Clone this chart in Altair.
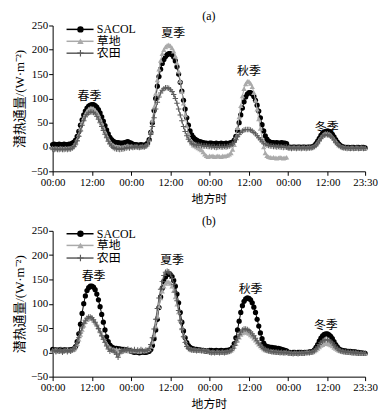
import altair as alt
import pandas as pd

series_names = ["SACOL", "草地", "农田"]
series_colors = ["#000000", "#aaaaaa", "#5c5c5c"]
series_shapes = ["circle", "triangle-up",
                 "M-1,-0.18H1V0.18H-1Z M-0.18,-1H0.18V1H-0.18Z"]
series_sizes = [28, 30, 26]

tick_vals = [0, 24, 48, 72, 96, 120, 144, 168, 191]
tick_labels = ["00:00", "12:00", "00:00", "12:00", "00:00", "12:00", "00:00", "12:00", "23:30"]
y_ticks = [-50, 0, 50, 100, 150, 200, 250]

# ---------- panel (a) ----------
a_sacol_spring = [5,6,5,5,6,5,5,6,5,5,6,6, 8,10,14,22,32,45, 56,66,74,80,84,86,87,87, 85,82,77,70,62,53,44,35, 27,20,15,12,10,9, 9,8,8,8,9,10,11,9]
a_sacol_summer = [8,6,5,5,4,4,5,4,4,5, 8,15,30,50,75,100, 125,145,160,172,180,186,190,192,192,190, 185,177,165,150,133,115,96,78, 60,45,33,25,20,16, 14,12,11,10,9,8,8,7]
a_sacol_autumn = [8,8,7,7,8,7,7,8,7,7,8,7,8,9, 10,14,22,34,50,66, 80,93,103,109,112,112,109,104, 96,86,74,60,46,33,23,16, 12,10,9,9,8,9,8,8,9,8,8,7]
a_sacol_winter = [0,0,-1,0,0,-1,0,0,-1,0,0,-1,0,0,0,1, 3,7,12,18,24,28, 31,32,33,32,30,26, 21,15,10,6,3,1, 0,-1,-1,-1,-2,-1,-1,-2,-1,-1,-2,-1,-1,-2]

a_grass_spring = [-2,-3,-2,-3,-3,-2,-3,-3,-2,-3,-2,-2, 0,3,8,16,26,38, 50,60,68,74,78,80,80,79, 76,72,66,58,50,41,32,24, 17,11,7,4,2,1, 0,0,-1,0,1,2,3,1]
a_grass_summer = [2,1,0,1,0,0,1,0,1,2, 6,15,32,55,82,110, 138,160,178,192,200,206,209,210,208,204, 197,187,173,156,136,114,90,66, 44,28,16,8,4,2, 0,-2,-4,-6,-10,-15,-18,-20]
a_grass_autumn = [-18,-19,-18,-20,-19,-18,-19,-20,-18,-19,-18,-17,-15,-12, -5,5,20,40,62,85, 105,120,130,135,135,131,124,112, 96,78,58,38,18,0,-12,-18, -20,-21,-22,-21,-22,-23,-22,-21,-22,-23,-22,-21]
a_grass_winter = [-1,-1,-2,-1,-1,-2,-1,-1,-2,-1,-1,-2,-1,-1,-1,0, 2,5,10,15,20,24, 27,28,28,27,25,21, 17,12,8,4,2,0, -1,-1,-2,-2,-2,-1,-2,-2,-1,-2,-2,-1,-2,-2]

a_farm_spring = [-4,-5,-4,-5,-5,-4,-5,-5,-4,-5,-4,-4, -2,1,6,13,22,33, 44,54,62,67,70,72,72,71, 68,63,57,50,42,34,26,19, 12,6,2,-1,-3,-4, -4,-5,-4,-4,-3,-2,-1,-2]
a_farm_summer = [0,-1,0,1,0,-1,0,1,0,2, 6,14,26,42,60,78, 92,103,111,117,120,122,122,121,118,114, 108,100,90,78,66,54,42,32, 23,16,11,8,6,5, 4,4,3,3,2,2,2,1]
a_farm_autumn = [1,0,1,0,-1,0,1,0,0,1,0,1,2,3, 6,10,15,21,26,30, 33,35,36,36,36,35,33,30, 27,23,19,15,11,8,6,4, 3,2,2,1,1,0,1,0,0,-1,0,0]
a_farm_winter = [-2,-2,-3,-2,-2,-3,-2,-2,-3,-2,-2,-3,-2,-2,-2,-1, 1,4,8,13,18,22, 24,25,25,24,22,19, 15,10,6,3,1,-1, -2,-2,-3,-2,-3,-2,-3,-2,-2,-3,-2,-2,-3,-2]

# ---------- panel (b) ----------
b_sacol_spring = [6,5,5,4,5,5,4,5,5,4,5,5,6,7, 12,22,38,58,80,100, 116,127,133,136,136,134,129,120, 108,94,78,62,46,32,22,15, 11,9,8,8,7,7,6,6,5,5,4,4]
b_sacol_summer = [2,1,0,1,0,-1,0,1,0,0,1,2, 6,14,28,46,68,92, 114,132,146,155,160,162,160,156, 148,136,120,102,82,62,44,30, 20,14,10,8,7,6, 6,5,5,4,4,3,3,3]
b_sacol_autumn = [4,4,3,3,4,3,3,4,3,3,4,4,5,6, 10,18,30,46,64,82, 96,105,110,112,111,108,102,93, 82,68,54,40,28,19,14,12, 11,10,10,9,9,8,8,7,6,5,4,3]
b_sacol_winter = [0,0,-1,0,0,-1,0,0,0,-1,0,0,0,1,1,2, 5,10,16,23,29,34, 37,38,38,36,33,28, 22,16,11,7,5,4, 3,3,2,2,2,1,1,1,0,0,-1,-1,-2,-2]

b_grass_spring = [4,3,5,2,4,3,2,4,3,5,3,4,5,7, 11,18,27,37,47,56, 63,67,70,70,69,66,62,57, 51,44,37,30,24,18,13,10, 8,6,5,6,4,5,3,4,5,3,4,3]
b_grass_summer = [4,3,5,3,4,2,5,3,4,3,5,7, 12,22,36,54,74,94, 112,126,136,142,145,145,142,136, 127,114,99,83,66,50,36,24, 15,10,7,6,5,5, 4,5,4,3,4,3,4,3]
b_grass_autumn = [1,0,1,0,0,1,0,0,1,0,1,1,2,4, 7,12,18,25,31,37, 40,42,42,41,39,36,33,29, 25,21,17,13,10,7,5,4, 3,2,2,1,1,1,0,0,0,-1,0,0]
b_grass_winter = [-1,-1,-1,-2,-1,-1,-2,-1,-1,-1,-1,0,0,0,0,1, 3,5,8,11,14,16, 18,18,18,17,15,13, 10,8,6,4,3,2, 1,1,0,0,0,-1,-1,-1,-1,-2,-2,-2,-2,-2]

b_farm_spring = [3,5,1,4,2,6,0,3,5,1,4,2,5,8, 12,20,30,40,50,59, 66,70,73,73,71,67,62,56, 49,42,34,27,20,13,7,2, 5,3,0,-4,-10,-3,4,2,6,4,7,3]
b_farm_summer = [5,3,6,2,5,3,6,4,2,5,4,8, 16,30,48,68,90,112, 130,146,158,165,167,166,161,152, 140,124,106,86,66,48,32,20, 12,8,6,5,4,5, 3,4,5,3,4,3,2,3]
b_farm_autumn = [0,-1,0,-1,0,0,-1,0,0,-1,0,1,2,4, 8,14,21,29,36,42, 46,48,48,47,45,42,38,34, 29,24,19,15,11,8,6,4, 3,2,1,1,0,0,0,-1,0,-1,-1,0]
b_farm_winter = [-2,-2,-2,-3,-2,-2,-3,-2,-2,-2,-2,-1,-1,-1,0,1, 3,7,11,16,20,23, 25,26,26,25,22,19, 15,11,8,5,3,2, 1,1,0,0,0,-1,-1,-1,-2,-2,-2,-2,-2,-2]

season_labels = ["春季", "夏季", "秋季", "冬季"]
a_label_x = [22.5, 73.7, 120, 167.5]
a_label_y = [105, 234, 156, 42]
b_label_x = [25, 73, 121, 167]
b_label_y = [158, 189, 131, 57]

legend_x1 = [8.5, 8.5, 8.5]
legend_x2 = [25, 25, 25]
legend_xm = [17, 17, 17]
legend_xt = [27, 27, 27]
a_legend_y = [242, 217.5, 193]
b_legend_y = [244, 220, 194]

panel_data = {
    "a": {
        "SACOL": [a_sacol_spring, a_sacol_summer, a_sacol_autumn, a_sacol_winter],
        "草地": [a_grass_spring, a_grass_summer, a_grass_autumn, a_grass_winter],
        "农田": [a_farm_spring, a_farm_summer, a_farm_autumn, a_farm_winter],
    },
    "b": {
        "SACOL": [b_sacol_spring, b_sacol_summer, b_sacol_autumn, b_sacol_winter],
        "草地": [b_grass_spring, b_grass_summer, b_grass_autumn, b_grass_winter],
        "农田": [b_farm_spring, b_farm_summer, b_farm_autumn, b_farm_winter],
    },
}

SERIF = "'Liberation Serif', 'Times New Roman', 'Noto Sans CJK SC', serif"
label_expr = "[" + ",".join("'%s'" % t for t in tick_labels) + "][indexof([" + \
    ",".join(str(v) for v in tick_vals) + "], datum.value)]"

color_scale = alt.Scale(domain=series_names, range=series_colors)
shape_scale = alt.Scale(domain=series_names, range=series_shapes)
size_scale = alt.Scale(domain=series_names, range=series_sizes)

x_scale = alt.Scale(domain=[0, 191], nice=False, zero=False)
y_scale = alt.Scale(domain=[-50, 250], nice=False)
x_axis = alt.Axis(values=tick_vals, tickCount=30, labelExpr=label_expr, title="地方时",
                  labelFlush=False, labelOverlap=False, titleFontSize=12, titlePadding=6)
y_axis = alt.Axis(values=y_ticks, tickCount=30, labelOverlap=False, labelFlush=False,
                  title="潜热通量/(W·m⁻²)", titleFontSize=13, titlePadding=4)


def X(field):
    return alt.X(field, scale=x_scale, axis=x_axis)


def Y(field):
    return alt.Y(field, scale=y_scale, axis=y_axis)


def make_panel(key, title, lab_x, lab_y, leg_y):
    rows = []
    for s in series_names:
        for si, seg in enumerate(panel_data[key][s]):
            for h, v in enumerate(seg):
                rows.append({"series": s, "idx": si * 48 + h, "val": v, "seg": f"{s}-{si}"})
    df = pd.DataFrame(rows)

    layers = []
    for s in series_names:
        sub = df[df["series"] == s]
        base = alt.Chart(sub)
        layers.append(base.mark_line(strokeWidth=1).encode(
            x=X("idx:Q"), y=Y("val:Q"), detail="seg:N",
            color=alt.Color("series:N", scale=color_scale, legend=None)))
        layers.append(base.mark_point(filled=True, opacity=1, strokeWidth=0).encode(
            x=X("idx:Q"), y=Y("val:Q"),
            color=alt.Color("series:N", scale=color_scale, legend=None),
            shape=alt.Shape("series:N", scale=shape_scale, legend=None),
            size=alt.Size("series:N", scale=size_scale, legend=None)))

    ann = pd.DataFrame({"idx": lab_x, "val": lab_y, "text": season_labels})
    layers.append(alt.Chart(ann).mark_text(font=SERIF, fontSize=12, color="#000").encode(
        x=X("idx:Q"), y=Y("val:Q"), text="text:N"))

    leg = pd.DataFrame({"series": series_names, "x1": legend_x1, "x2": legend_x2,
                        "xm": legend_xm, "xt": legend_xt, "val": leg_y})
    lb = alt.Chart(leg)
    layers.append(lb.mark_rule(strokeWidth=1.5).encode(
        x=X("x1:Q"), x2="x2:Q", y=Y("val:Q"),
        color=alt.Color("series:N", scale=color_scale, legend=None)))
    layers.append(lb.mark_point(filled=True, opacity=1, size=42, strokeWidth=0).encode(
        x=X("xm:Q"), y=Y("val:Q"),
        color=alt.Color("series:N", scale=color_scale, legend=None),
        shape=alt.Shape("series:N", scale=shape_scale, legend=None)))
    layers.append(lb.mark_text(font=SERIF, fontSize=12, align="left", color="#000").encode(
        x=X("xt:Q"), y=Y("val:Q"), text="series:N"))

    return alt.layer(*layers).properties(
        width=315, height=147,
        title=alt.TitleParams(title, font=SERIF, fontSize=12, fontWeight="normal",
                              anchor="middle", offset=-3, frame="group", color="#000"))


pa = make_panel("a", "(a)", a_label_x, a_label_y, a_legend_y)
pb = make_panel("b", "(b)", b_label_x, b_label_y, b_legend_y)

chart = alt.vconcat(pa, pb, spacing=11).properties(
    padding={"left": 5, "top": 0, "right": 0, "bottom": 0},
    background="white",
).configure_view(stroke=None).configure_axis(
    grid=False, domainColor="#000", tickColor="#000", tickSize=4,
    labelFont=SERIF, labelFontSize=11, labelColor="#000", labelPadding=1,
    labelOverlap=False,
    titleFont=SERIF, titleFontWeight="normal", titleColor="#000",
)

chart.save("out.html", embed_options={"renderer": "svg", "actions": False})
